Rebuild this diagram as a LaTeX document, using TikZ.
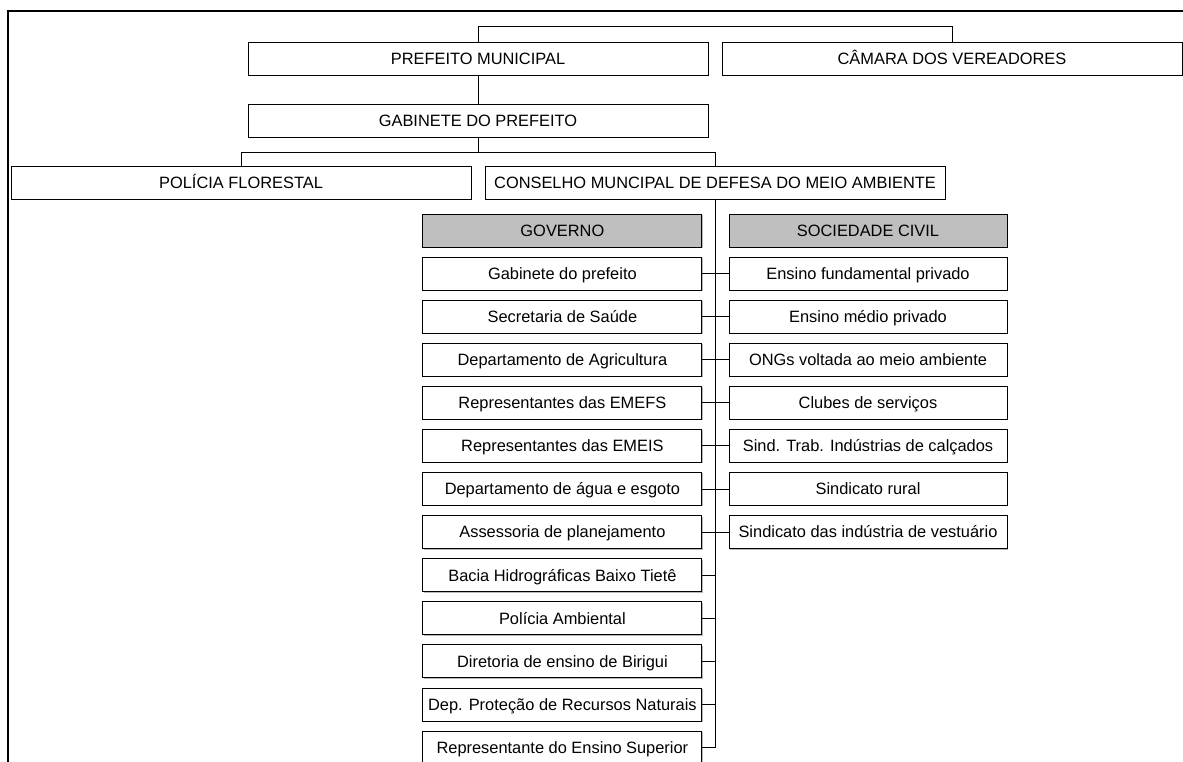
\documentclass[tikz,border=0pt]{standalone}
\usepackage{fontspec}
\setmainfont{Liberation Sans}
\usetikzlibrary{shadows}
\begin{document}
\begin{tikzpicture}[x=1pt,y=-1pt,
  box/.style={draw=black, line width=1pt, fill=white, minimum height=33pt, inner sep=0pt,
    text height=11.7pt, text depth=0pt,
    font=\fontsize{16.4}{19}\selectfont,
    drop shadow={shadow xshift=0.9pt, shadow yshift=-0.9pt, fill=black!28, opacity=1}},
  wide/.style={box, minimum width=460pt},
  col/.style={box, minimum width=279pt},
  head/.style={col, fill=black!25},
  conn/.style={draw=black, line width=1pt}
]
\useasboundingbox (0,0) rectangle (1183,761);
\clip (0,0) rectangle (1183,761);
\fill[white] (0,0) rectangle (1183,761);
% outer frame (cut by the page edge)
\draw[line width=2.2pt] (8,790) -- (8,11) -- (1210,11);

% upper levels
\node[wide] (pref) at (478,58.8) {PREFEITO MUNICIPAL};
\node[wide] (cam)  at (952,58.8) {CÂMARA DOS VEREADORES};
\node[wide] (gab)  at (478,120.8) {GABINETE DO PREFEITO};
\node[wide] (pol)  at (241,182.7) {POLÍCIA FLORESTAL};
\node[wide] (cons) at (715,182.7) {CONSELHO MUNCIPAL DE DEFESA DO MEIO AMBIENTE};

% headers
\node[head] (gov) at (562.4,231) {GOVERNO};
\node[head, minimum width=278pt] (soc) at (868,231) {SOCIEDADE CIVIL};

% government column
\foreach \t [count=\i from 0] in {Gabinete do prefeito, Secretaria de Saúde,
  Departamento de Agricultura, Representantes das EMEFS, Representantes das EMEIS,
  Departamento de água e esgoto, Assessoria de planejamento,
  Bacia Hidrográficas Baixo Tietê, Polícia Ambiental, Diretoria de ensino de Birigui,
  Dep. Proteção de Recursos Naturais, Representante do Ensino Superior}
  \node[col] (g\i) at (562.4,{273.5+43.1*\i}) {\t};

% civil society column
\foreach \t [count=\i from 0] in {Ensino fundamental privado, Ensino médio privado,
  ONGs voltada ao meio ambiente, Clubes de serviços, Sind. Trab. Indústrias de calçados,
  Sindicato rural, Sindicato das indústria de vestuário}
  \node[col, minimum width=278pt] (s\i) at (868,{273.5+43.1*\i}) {\t};

% connectors
\draw[conn] (pref.north) -- ++(0,-15) -| (cam.north);
\draw[conn] (pref.south) -- (gab.north);
\draw[conn] (gab.south) -- ++(0,15) coordinate (j);
\draw[conn] (pol.north) |- (j) -| (cons.north);
\draw[conn] (cons.south) |- (g11.east);
\foreach \i in {0,...,6}
  \draw[conn] (g\i.east) -- (s\i.west);
\foreach \i in {7,...,10}
  \draw[conn] (g\i.east) -- (g\i.east -| cons.south);
\end{tikzpicture}
\end{document}
